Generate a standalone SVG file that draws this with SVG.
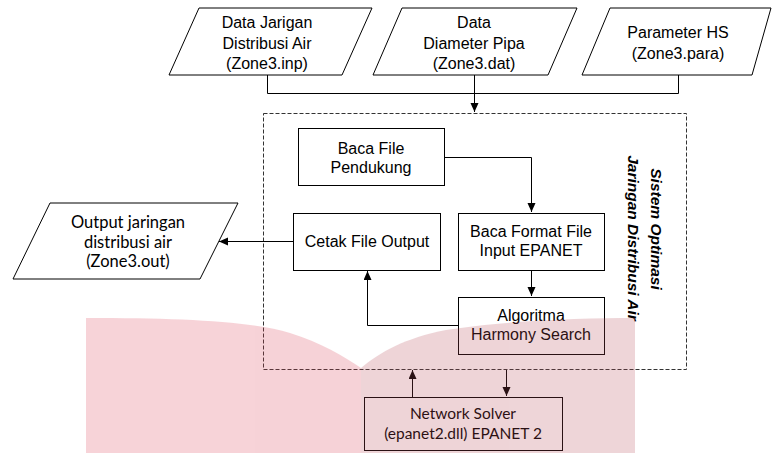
<svg xmlns="http://www.w3.org/2000/svg" width="772" height="453" viewBox="0 0 772 453">
  <style>
    .shape{fill:#fff;stroke:#000;stroke-width:1}
    .ln{fill:none;stroke:#000;stroke-width:1}
    .t{font-family:"Liberation Sans",Arial,sans-serif;font-size:16px;fill:#000;text-anchor:middle}
    .c{font-family:Lato,"Noto Sans",sans-serif;font-size:15.5px;fill:#000;text-anchor:middle}
    .c2{font-size:16.5px}
    .v{font-family:"Liberation Sans",Arial,sans-serif;font-size:15.5px;font-weight:bold;font-style:italic;fill:#000;text-anchor:middle}
  </style>
  <defs>
    <marker id="arr" markerWidth="10" markerHeight="10" refX="9" refY="4" orient="auto" markerUnits="userSpaceOnUse">
      <path d="M0,0 L9,4 L0,8 Z" fill="#000"/>
    </marker>
  </defs>

  <rect width="772" height="453" fill="#fff"/>

  <!-- input files -->
  <g id="in-inp">
    <polygon class="shape" points="199,8 372,8 342,75 169,75"/>
    <text class="t" x="267" y="28">Data Jarigan</text>
    <text class="t" x="267" y="48.5">Distribusi Air</text>
    <text class="t" x="267" y="69">(Zone3.inp)</text>
  </g>
  <g id="in-dat">
    <polygon class="shape" points="402,8 577,8 548,75 373,75"/>
    <text class="t" x="474" y="28">Data</text>
    <text class="t" x="474" y="48.5">Diameter Pipa</text>
    <text class="t" x="474" y="69">(Zone3.dat)</text>
  </g>
  <g id="in-para">
    <polygon class="shape" points="610,8 771,8 752,75 582,75"/>
    <text class="t" x="678" y="38">Parameter HS</text>
    <text class="t" x="678" y="58.5">(Zone3.para)</text>
  </g>

  <!-- system boundary -->
  <g id="system">
    <rect x="263.5" y="113.5" width="423" height="256" fill="none" stroke="#333" stroke-width="1" stroke-dasharray="4 2"/>
    <g transform="rotate(90)">
      <text class="v" x="229" y="-651">Sistem Optimasi</text>
      <text class="v" x="238" y="-628">Jaringan Distribusi Air</text>
    </g>
  </g>

  <g id="baca-pendukung">
    <rect class="shape" x="298.5" y="128.5" width="146" height="57"/>
    <text class="t" x="371" y="154">Baca File</text>
    <text class="t" x="371" y="173">Pendukung</text>
  </g>
  <g id="baca-format">
    <rect class="shape" x="458.5" y="213.5" width="146" height="57"/>
    <text class="t" x="531" y="237">Baca Format File</text>
    <text class="t" x="531" y="256">Input EPANET</text>
  </g>
  <g id="cetak-output">
    <rect class="shape" x="293.5" y="213.5" width="147" height="57"/>
    <text class="t" x="367" y="247">Cetak File Output</text>
  </g>
  <g id="harmony-search">
    <rect class="shape" x="458.5" y="297.5" width="146" height="57"/>
    <text class="t" x="531" y="321">Algoritma</text>
    <text class="t" x="531" y="340">Harmony Search</text>
  </g>

  <g id="output-file">
    <polygon class="shape" points="50,203 238,203 200,279 13,279"/>
    <text class="c c2" x="128" y="228">Output jaringan</text>
    <text class="c c2" x="128" y="247.5">distribusi air</text>
    <text class="c c2" x="128" y="267">(Zone3.out)</text>
  </g>

  <g id="network-solver">
    <rect class="shape" x="364.5" y="397.5" width="198" height="53"/>
    <text class="c" x="463" y="419">Network Solver</text>
    <text class="c" x="463" y="439">(epanet2.dll) EPANET 2</text>
  </g>

  <!-- connectors -->
  <g id="connectors">
    <path class="ln" d="M267.5,75 V93.5 H678.5 V75"/>
    <path class="ln" d="M474.5,75 V112" marker-end="url(#arr)"/>
    <path class="ln" d="M444,157.5 H531.5 V212" marker-end="url(#arr)"/>
    <path class="ln" d="M531.5,271 V296" marker-end="url(#arr)"/>
    <path class="ln" d="M458,325.5 H367.5 V271" marker-end="url(#arr)"/>
    <path class="ln" d="M293,241.5 H219" marker-end="url(#arr)"/>
    <path class="ln" d="M412.5,397 V370" marker-end="url(#arr)"/>
    <path class="ln" d="M506.5,370 V396" marker-end="url(#arr)"/>
  </g>

  <!-- translucent background emblem -->
  <g id="emblem" opacity="0.23">
    <path d="M86,453 L86,318 C180,318 250,321 290,333 C320,342 345,357 361,368 L361,453 Z" fill="#DC4155"/>
    <path d="M361,453 L361,368 C380,352 405,338 446,330 C500,321 580,318 635,318 L635,453 Z" fill="#B74A57"/>
  </g>
</svg>
